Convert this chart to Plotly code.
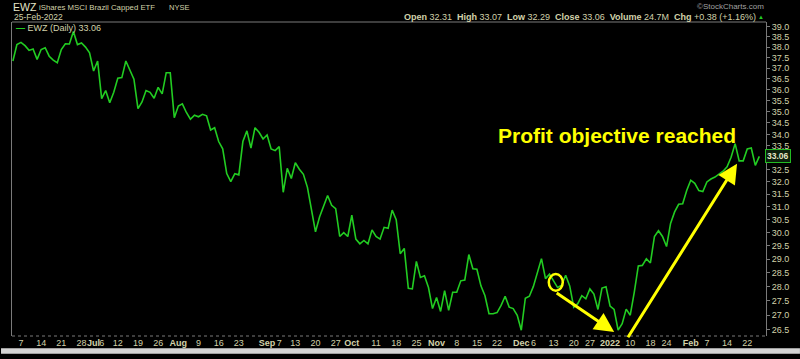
import math
import pandas as pd
import plotly.graph_objects as go

# ---------------- data ----------------
start_date = "2021-06-03"
end_date = "2022-02-25"
market_holidays = ["2021-07-05", "2021-09-06", "2021-11-25", "2021-12-24",
                   "2022-01-17", "2022-02-21"]

close = [
    37.33, 38.12, 38.23, 38.07, 37.84, 37.91, 37.41, 37.88, 37.97, 37.56,
    37.37, 37.25, 37.88, 38.16, 38.15, 38.76, 38.12, 38.20, 38.00, 37.72,
    36.86, 37.33, 35.58, 35.95, 35.40, 35.87, 36.52, 36.55, 37.33, 36.94,
    36.48, 35.13, 35.43, 35.95, 35.87, 35.60, 36.10, 35.80, 36.78, 36.78,
    34.73, 35.25, 35.35, 34.96, 34.66, 34.84, 34.77, 34.88, 34.81, 34.19,
    34.29, 33.69, 33.38, 32.34, 32.01, 32.34, 32.29, 33.69, 34.15, 33.41,
    34.29, 34.09, 33.80, 33.97, 33.37, 33.30, 33.47, 31.58, 32.56, 32.14,
    32.79, 32.52, 32.31, 31.78, 30.93, 30.03, 30.60, 31.06, 31.45, 31.06,
    30.93, 29.85, 30.00, 29.85, 30.67, 29.75, 29.57, 29.70, 29.57, 30.10,
    29.85, 29.75, 30.20, 30.16, 30.87, 30.50, 29.20, 29.40, 27.94, 27.92,
    28.92, 28.33, 28.39, 27.97, 27.23, 27.62, 27.13, 27.86, 27.17, 27.80,
    27.80, 28.21, 28.24, 29.17, 28.65, 28.63, 28.03, 27.68, 27.05, 27.05,
    27.09, 27.34, 27.66, 27.28, 27.23, 27.00, 26.49, 27.59, 27.66, 28.01,
    28.50, 29.02, 28.29, 28.45, 28.21, 27.97, 28.05, 28.41, 28.03, 27.28,
    27.40, 27.68, 27.57, 27.92, 27.74, 27.20, 27.95, 28.00, 27.32, 27.20,
    26.49, 26.71, 27.21, 27.00, 27.80, 28.75, 28.77, 29.01, 28.86, 29.85,
    30.07, 29.85, 29.47, 30.35, 30.80, 31.10, 31.12, 31.65, 32.07, 31.94,
    31.65, 31.61, 32.00, 32.12, 32.20, 32.33, 32.44, 32.62, 33.02, 33.60,
    32.87, 32.87, 33.37, 33.41, 32.68, 33.06,
]

tick_dates = ["2021-06-07", "2021-06-14", "2021-06-21", "2021-06-28", "2021-07-01",
              "2021-07-06", "2021-07-12", "2021-07-19", "2021-07-26", "2021-08-02",
              "2021-08-09", "2021-08-16", "2021-08-23", "2021-09-01", "2021-09-07",
              "2021-09-13", "2021-09-20", "2021-09-27", "2021-10-01", "2021-10-11",
              "2021-10-18", "2021-10-25", "2021-11-01", "2021-11-08", "2021-11-15",
              "2021-11-22", "2021-12-01", "2021-12-06", "2021-12-13", "2021-12-20",
              "2021-12-27", "2022-01-03", "2022-01-10", "2022-01-18", "2022-01-24",
              "2022-02-01", "2022-02-07", "2022-02-14", "2022-02-22"]
tick_labels = ["7", "14", "21", "28", "<b>Jul</b>", "6", "12", "19", "26", "<b>Aug</b>",
               "9", "16", "23", "<b>Sep</b>", "7", "13", "20", "27", "<b>Oct</b>", "11",
               "18", "25", "<b>Nov</b>", "8", "15", "22", "<b>Dec</b>", "6", "13", "20",
               "27", "<b>2022</b>", "10", "18", "24", "<b>Feb</b>", "7", "14", "22"]

price_ticks = [26.5, 27.0, 27.5, 28.0, 28.5, 29.0, 29.5, 30.0, 30.5, 31.0, 31.5, 32.0, 32.5,
               33.0, 33.5, 34.0, 34.5, 35.0, 35.5, 36.0, 36.5, 37.0, 37.5, 38.0, 38.5, 39.0]

last_close = 33.06
ohlc_text = ("<b>Open</b> 32.31  <b>High</b> 33.07  <b>Low</b> 32.29  <b>Close</b> 33.06  "
             "<b>Volume</b> 24.7M  <b>Chg</b> +0.38 (+1.16%)")

# ---------------- layout helpers ----------------
W, H = 800, 359
L, R, T, B = 11, 34, 22, 18
PW, PH = W - L - R, H - T - B


def px(x):
    return (x - L) / PW


def py(y):
    return (H - B - y) / PH


days = [d.strftime("%Y-%m-%d") for d in pd.bdate_range(start_date, end_date)]
days = [d for d in days if d not in market_holidays]

BEIGE = "#d2d2aa"
BRIGHT = "#e6e6c8"
GREEN = "#22cc22"
YELLOW = "#ffff00"
FRAME = "#7a7a7a"
FONT = "Liberation Sans, Arial, sans-serif"

fig = go.Figure()
fig.add_trace(go.Scatter(x=days, y=close, mode="lines",
                         line=dict(color=GREEN, width=1.6),
                         hoverinfo="skip", showlegend=False))

# the live-value box replaces the 33.0 label, as on the reference
price_tick_text = ["" if abs(v - 33.0) < 1e-9 else f"{v:.1f}" for v in price_ticks]

fig.update_layout(
    width=W, height=H,
    margin=dict(l=L, r=R, t=T, b=B),
    paper_bgcolor="#000000", plot_bgcolor="#000000",
    font=dict(family=FONT, color=BEIGE, size=9),
    xaxis=dict(type="category", range=[-0.22, 186.65],
               tickmode="array", tickvals=tick_dates, ticktext=tick_labels,
               showgrid=False, zeroline=False, showline=False, ticks="",
               tickfont=dict(size=9, color=BEIGE), tickangle=0),
    yaxis=dict(type="log", side="right",
               range=[1.41987, 1.59366],
               tickmode="array", tickvals=price_ticks,
               ticktext=price_tick_text,
               ticks="outside", ticklen=3, tickcolor=FRAME,
               showline=True, linecolor=FRAME, linewidth=1, mirror=True,
               showgrid=False, zeroline=False,
               tickfont=dict(size=9, color=BEIGE)),
)

shapes = [
    dict(type="line", xref="paper", yref="paper", x0=0, x1=1, y0=1, y1=1,
         line=dict(color=FRAME, width=1)),
    dict(type="line", xref="paper", yref="paper", x0=0, x1=1, y0=0, y1=0,
         line=dict(color=FRAME, width=1, dash="dot")),
    dict(type="circle", xref="paper", yref="paper",
         x0=px(548.5), x1=px(562.5), y0=py(295), y1=py(278),
         line=dict(color=YELLOW, width=2.5)),
    dict(type="rect", xref="paper", yref="paper",
         x0=px(0), x1=px(800), y0=py(359), y1=py(353.5),
         fillcolor="#d4d4d4", line=dict(width=0), layer="above"),
]
fig.update_layout(shapes=shapes)

ann = []
# header
ann.append(dict(xref="paper", yref="paper", x=px(10), y=py(7), xanchor="left", yanchor="middle",
                text="EWZ", showarrow=False, font=dict(size=10.5, color=BRIGHT)))
ann.append(dict(xref="paper", yref="paper", x=px(36), y=py(7.5), xanchor="left", yanchor="middle",
                text="iShares MSCI Brazil Capped ETF", showarrow=False,
                font=dict(size=7.8, color=BEIGE)))
ann.append(dict(xref="paper", yref="paper", x=px(166), y=py(7.5), xanchor="left", yanchor="middle",
                text="NYSE", showarrow=False, font=dict(size=7.5, color=BEIGE)))
ann.append(dict(xref="paper", yref="paper", x=px(11), y=py(17), xanchor="left", yanchor="middle",
                text="25-Feb-2022", showarrow=False, font=dict(size=8.5, color=BEIGE)))
ann.append(dict(xref="paper", yref="paper", x=px(766), y=py(6.5), xanchor="right", yanchor="middle",
                text="©StockCharts.com", showarrow=False, font=dict(size=8, color="#a0a0a0")))
ann.append(dict(xref="paper", yref="paper", x=px(758), y=py(16.7), xanchor="right", yanchor="middle",
                text=ohlc_text, showarrow=False, font=dict(size=9, color=BEIGE)))
ann.append(dict(xref="paper", yref="paper", x=px(766), y=py(16.5), xanchor="right", yanchor="middle",
                text="▲", showarrow=False, font=dict(size=6, color=GREEN)))
# legend
ann.append(dict(xref="paper", yref="paper", x=px(13), y=py(28), xanchor="left", yanchor="middle",
                text=f"<span style='color:{GREEN}'><b>—</b></span> EWZ (Daily) {last_close:.2f}",
                showarrow=False, font=dict(size=9, color=BEIGE)))
# last value box
ann.append(dict(xref="paper", yref="y", x=px(778), y=math.log10(last_close),
                xanchor="center", yanchor="middle", text=f"<b>{last_close:.2f}</b>",
                showarrow=False, font=dict(size=8.5, color=BRIGHT),
                bgcolor="#0c200c", bordercolor="#22bb22", borderwidth=1, borderpad=1))
# annotation text
ann.append(dict(xref="paper", yref="paper", x=px(496), y=py(137), xanchor="left", yanchor="middle",
                text="<b>Profit objective reached</b>", showarrow=False,
                font=dict(size=21, color=YELLOW, family=FONT)))
# arrows
ann.append(dict(xref="paper", yref="paper", x=px(614), y=py(337), ax=-59, ay=-40,
                text="", showarrow=True, arrowhead=2, arrowsize=1.3, arrowwidth=3,
                arrowcolor=YELLOW, standoff=0))
ann.append(dict(xref="paper", yref="paper", x=px(737), y=py(166), ax=-110, ay=175,
                text="", showarrow=True, arrowhead=2, arrowsize=1.3, arrowwidth=3,
                arrowcolor=YELLOW, standoff=0))
fig.update_layout(annotations=ann)

fig.write_html("out.html", config={"displayModeBar": False},
               post_script="document.body.style.margin='0px';")
